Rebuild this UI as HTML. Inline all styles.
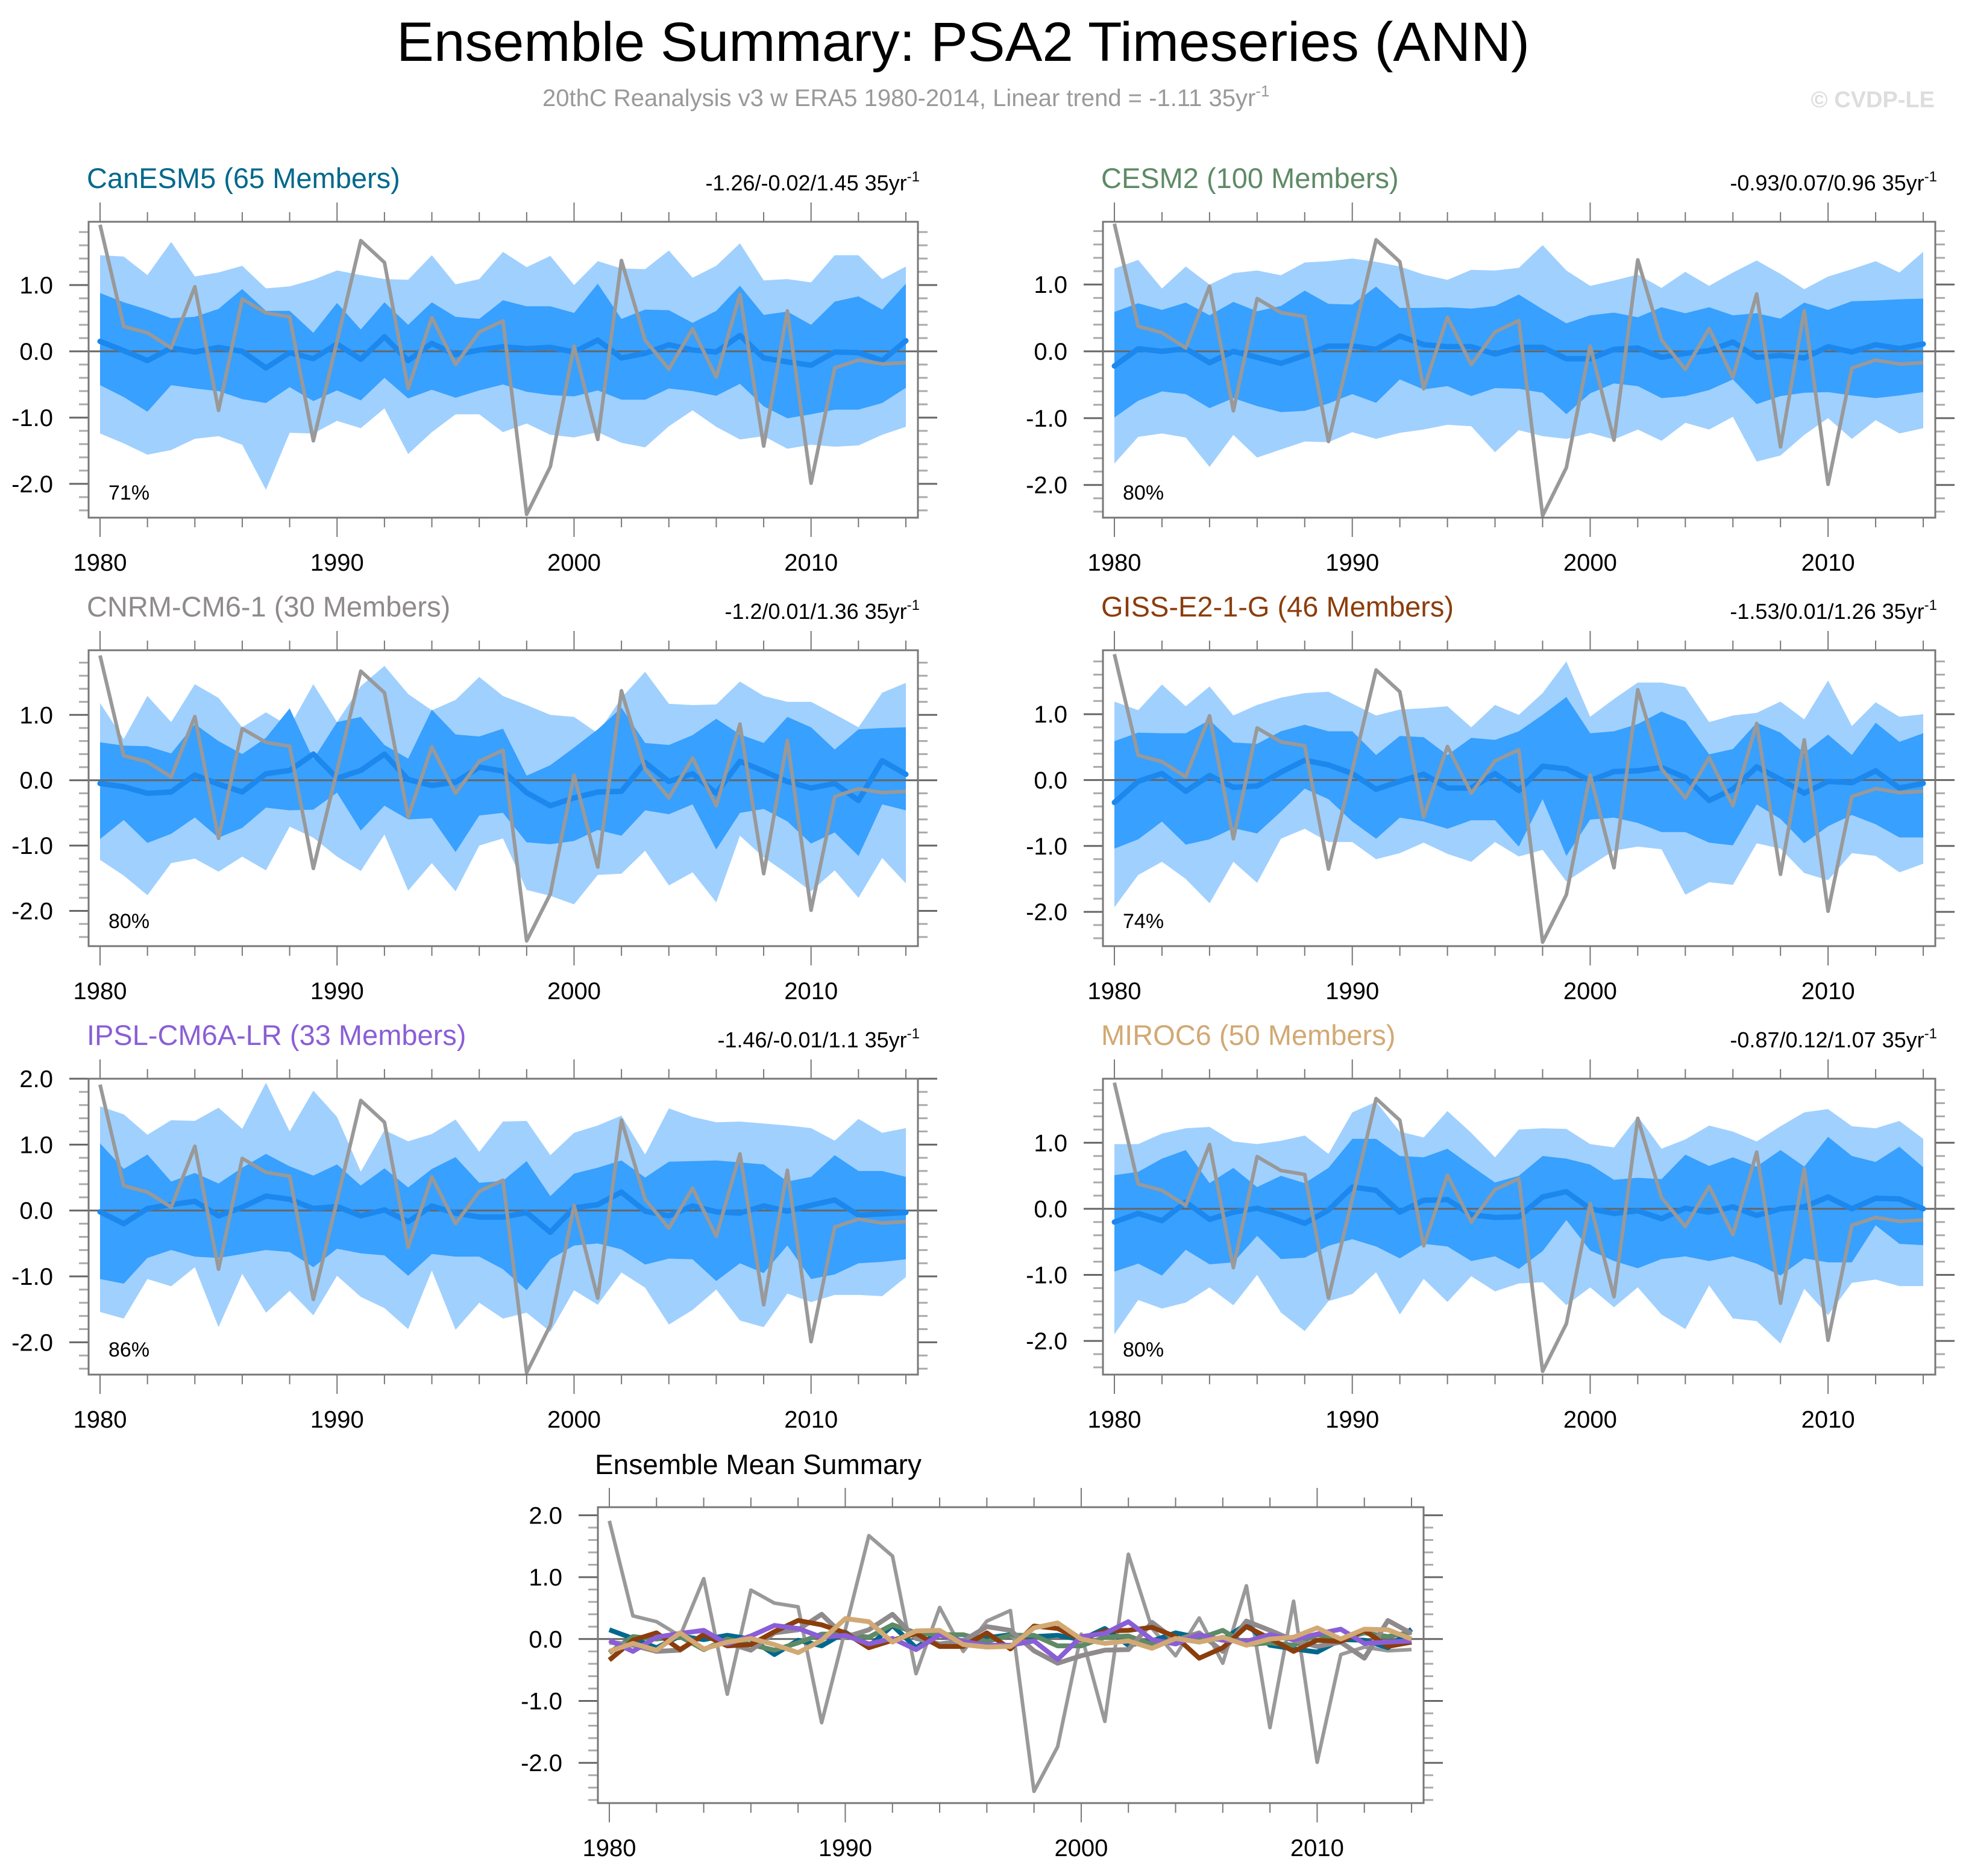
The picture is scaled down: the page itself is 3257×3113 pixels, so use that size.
<!DOCTYPE html>
<html><head><meta charset="utf-8"><title>Ensemble Summary: PSA2 Timeseries (ANN)</title>
<style>html,body{margin:0;padding:0;background:#fff}svg{display:block}text{font-family:"Liberation Sans",Arial,sans-serif}</style>
</head><body>
<svg id="chart" xmlns="http://www.w3.org/2000/svg" width="3257" height="3113" viewBox="0 0 3257 3113">
<rect width="3257" height="3113" fill="#fff"/>
<text x="1598" y="101" font-size="92" text-anchor="middle" textLength="1880" lengthAdjust="spacingAndGlyphs">Ensemble Summary: PSA2 Timeseries (ANN)</text>
<text x="900" y="176" font-size="40" fill="#999">20thC Reanalysis v3 w ERA5 1980-2014, Linear trend = -1.11 35yr<tspan dy="-16" font-size="26">-1</tspan></text>
<text x="3210" y="178" font-size="38" font-weight="bold" fill="#ddd" text-anchor="end">© CVDP-LE</text>
<g id="plots"></g>
</svg>
<script>
const years=[];for(let y=1980;y<=2014;y++)years.push(y);
const obs=[1.91,0.375,0.28,0.05,0.975,-0.89,0.79,0.58,0.52,-1.35,0.15,1.67,1.34,-0.56,0.51,-0.2,0.29,0.46,-2.46,-1.74,0.08,-1.33,1.37,0.17,-0.27,0.34,-0.39,0.86,-1.43,0.61,-1.99,-0.25,-0.13,-0.19,-0.17];

const canHi=[1.45,1.43,1.15,1.65,1.13,1.19,1.29,0.95,0.98,1.08,1.22,1.15,1.09,1.08,1.45,1.01,1.09,1.5,1.27,1.44,1.0,1.36,1.25,1.24,1.52,1.11,1.29,1.63,1.07,1.09,1.04,1.45,1.45,1.09,1.28];
const canQ3=[0.88,0.74,0.63,0.5,0.52,0.64,0.94,0.61,0.61,0.28,0.73,0.33,0.74,0.4,0.74,0.52,0.49,0.77,0.68,0.68,0.58,1.02,0.49,0.63,0.62,0.43,0.61,0.99,0.55,0.6,0.4,0.75,0.83,0.63,1.02];
const canQ1=[-0.51,-0.69,-0.91,-0.51,-0.56,-0.6,-0.72,-0.78,-0.54,-0.75,-0.59,-0.74,-0.4,-0.71,-0.58,-0.7,-0.59,-0.5,-0.61,-0.66,-0.68,-0.59,-0.73,-0.73,-0.56,-0.6,-0.67,-0.49,-0.83,-1.01,-0.95,-0.88,-0.88,-0.78,-0.55];
const canLo=[-1.24,-1.39,-1.56,-1.49,-1.32,-1.28,-1.41,-2.09,-1.23,-1.24,-1.05,-1.16,-0.86,-1.55,-1.22,-0.95,-0.95,-1.22,-1.09,-1.26,-1.3,-1.22,-1.38,-1.45,-1.13,-0.89,-1.14,-1.33,-1.28,-1.47,-1.41,-1.44,-1.42,-1.26,-1.14];
const canMean=[0.15,0.01,-0.14,0.05,-0.01,0.06,0,-0.25,-0.02,-0.11,0.11,-0.12,0.22,-0.14,0.12,-0.05,0.02,0.07,0.04,0.06,-0.01,0.17,-0.1,-0.03,0.1,0.02,-0.01,0.24,-0.1,-0.16,-0.21,-0.01,-0.02,-0.14,0.16];

const cesmHi=[1.24,1.37,0.94,1.27,1.0,1.17,1.21,1.14,1.33,1.35,1.39,1.34,1.27,1.15,1.07,1.22,1.21,1.25,1.59,1.21,0.98,1.06,1.15,0.95,1.19,0.98,1.18,1.36,1.16,0.93,1.12,1.23,1.35,1.18,1.49];
const cesmQ3=[0.59,0.72,0.62,0.73,0.54,0.74,0.6,0.68,0.91,0.71,0.7,0.97,0.65,0.65,0.66,0.64,0.68,0.85,0.63,0.42,0.54,0.58,0.51,0.66,0.57,0.66,0.54,0.57,0.49,0.73,0.62,0.75,0.76,0.78,0.79];
const cesmQ1=[-0.99,-0.74,-0.6,-0.64,-0.85,-0.7,-0.82,-0.91,-0.89,-0.78,-0.64,-0.77,-0.42,-0.57,-0.52,-0.67,-0.55,-0.56,-0.62,-0.94,-0.63,-0.48,-0.52,-0.7,-0.67,-0.58,-0.42,-0.79,-0.67,-0.62,-0.61,-0.66,-0.7,-0.66,-0.61];
const cesmLo=[-1.68,-1.28,-1.23,-1.29,-1.73,-1.25,-1.59,-1.47,-1.35,-1.36,-1.21,-1.31,-1.22,-1.17,-1.1,-1.12,-1.51,-1.18,-1.27,-1.31,-1.22,-1.32,-1.17,-1.34,-1.07,-1.17,-0.98,-1.65,-1.56,-1.25,-1.0,-1.31,-1.03,-1.23,-1.15];
const cesmMean=[-0.22,0.04,0.0,0.04,-0.17,0.0,-0.09,-0.18,-0.06,0.08,0.08,0.03,0.23,0.1,0.07,0.07,-0.04,0.06,0.06,-0.11,-0.11,0.03,0.05,-0.09,-0.03,0.01,0.14,-0.09,-0.06,-0.1,0.07,-0.01,0.1,0.04,0.11];

const cnrmHi=[1.18,0.63,1.29,0.89,1.47,1.26,0.81,1.04,0.82,1.47,0.89,1.44,1.75,1.32,1.07,1.23,1.58,1.29,1.15,1.0,0.97,0.72,1.26,1.66,1.17,1.15,1.16,1.51,1.29,1.2,1.2,1.01,0.81,1.34,1.49];
const cnrmQ3=[0.58,0.53,0.52,0.41,0.86,0.6,0.4,0.65,1.1,0.32,0.89,0.97,0.54,0.33,1.08,0.7,0.67,0.79,0.07,0.23,0.5,0.78,1.11,0.57,0.54,0.69,0.94,0.7,0.57,0.97,0.81,0.47,0.78,0.8,0.81];
const cnrmQ1=[-0.9,-0.61,-0.96,-0.82,-0.57,-0.88,-0.73,-0.42,-0.46,-0.45,-0.19,-0.77,-0.39,-0.6,-0.58,-1.1,-0.54,-0.5,-0.95,-0.98,-0.93,-0.76,-0.85,-0.46,-0.52,-0.37,-1.06,-0.5,-0.44,-0.63,-0.97,-0.8,-1.16,-0.37,-0.46];
const cnrmLo=[-1.22,-1.46,-1.76,-1.27,-1.2,-1.4,-1.17,-1.38,-0.71,-0.88,-1.17,-1.39,-0.83,-1.69,-1.27,-1.7,-1.0,-0.89,-1.68,-1.77,-1.9,-1.45,-1.43,-1.08,-1.61,-1.41,-1.87,-0.85,-1.18,-1.43,-1.7,-1.38,-1.8,-1.19,-1.58];
const cnrmMean=[-0.05,-0.1,-0.2,-0.18,0.08,-0.06,-0.18,0.1,0.15,0.4,0.03,0.15,0.4,0.01,-0.08,-0.03,0.2,0.14,-0.19,-0.39,-0.27,-0.18,-0.17,0.27,-0.02,0.1,-0.2,0.29,0.14,-0.02,-0.12,-0.05,-0.31,0.3,0.09];

const gissHi=[1.19,1.06,1.45,1.12,1.42,0.98,1.14,1.25,1.32,1.34,1.16,0.98,1.07,1.09,1.12,0.8,1.14,0.99,1.32,1.8,0.96,1.23,1.48,1.48,1.41,0.88,0.98,1.02,1.19,0.92,1.51,0.82,1.18,0.96,1.0];
const gissQ3=[0.59,0.72,0.71,0.71,0.91,0.57,0.55,0.74,0.84,0.74,0.74,0.38,0.67,0.65,0.38,0.64,0.61,0.74,0.99,1.26,0.71,0.74,0.85,1.04,0.89,0.39,0.47,0.87,0.72,0.41,0.69,0.38,0.87,0.58,0.71];
const gissQ1=[-1.04,-0.9,-0.63,-0.98,-0.9,-0.73,-0.81,-0.48,-0.13,-0.29,-0.63,-0.89,-0.57,-0.63,-0.74,-0.61,-0.61,-1.01,-0.29,-1.15,-0.6,-0.57,-0.65,-0.79,-0.79,-0.95,-0.99,-0.37,-0.59,-0.96,-0.7,-0.53,-0.67,-0.87,-0.87];
const gissLo=[-1.93,-1.44,-1.24,-1.5,-1.87,-1.24,-1.56,-0.89,-0.74,-0.94,-0.94,-1.2,-1.11,-0.95,-1.12,-1.24,-0.94,-1.16,-1.06,-1.54,-1.3,-1.07,-1.01,-1.05,-1.74,-1.55,-1.59,-0.96,-1.04,-1.41,-1.52,-1.11,-1.15,-1.4,-1.27];
const gissMean=[-0.34,-0.02,0.1,-0.17,0.07,-0.11,-0.09,0.12,0.3,0.23,0.1,-0.14,-0.02,0.09,-0.12,-0.12,0.1,-0.16,0.21,0.17,-0.01,0.13,0.14,0.19,0.04,-0.31,-0.14,0.2,0.01,-0.2,-0.02,-0.04,0.14,-0.12,-0.05];

const ipslHi=[1.58,1.46,1.15,1.37,1.36,1.56,1.24,1.94,1.2,1.82,1.42,0.59,1.22,1.05,1.16,1.38,0.89,1.35,1.36,0.84,1.18,1.29,1.44,0.85,1.55,1.42,1.34,1.35,1.32,1.29,1.25,1.06,1.39,1.18,1.25];
const ipslQ3=[1.02,0.63,0.85,0.44,0.57,0.41,0.65,0.86,0.67,0.53,0.7,0.38,0.64,0.35,0.63,0.81,0.42,0.45,0.75,0.22,0.56,0.65,0.76,0.5,0.74,0.75,0.76,0.73,0.7,0.44,0.51,0.84,0.6,0.6,0.51];
const ipslQ1=[-1.04,-1.11,-0.72,-0.6,-0.7,-0.72,-0.66,-0.6,-0.63,-0.86,-0.58,-0.65,-0.68,-0.99,-0.66,-0.7,-0.7,-0.89,-1.21,-0.74,-0.53,-0.5,-0.59,-0.82,-0.73,-0.74,-1.07,-0.8,-0.95,-0.53,-1.04,-0.97,-0.8,-0.78,-0.74];
const ipslLo=[-1.54,-1.64,-1.04,-1.15,-0.86,-1.77,-0.96,-1.55,-1.22,-1.59,-0.99,-1.31,-1.48,-1.8,-0.91,-1.81,-1.4,-1.64,-1.55,-1.84,-1.21,-1.43,-0.94,-1.17,-1.73,-1.51,-1.2,-1.67,-1.77,-1.26,-1.39,-1.28,-1.28,-1.3,-1.01];
const ipslMean=[-0.02,-0.2,0.03,0.09,0.14,-0.08,0.05,0.22,0.17,0.03,0.06,-0.08,0.01,-0.17,0.07,-0.04,-0.1,-0.1,-0.03,-0.33,0.04,0.09,0.28,-0.01,-0.08,0.07,-0.02,-0.04,0.07,-0.01,0.08,0.16,-0.07,-0.05,-0.03];

const mirocHi=[0.98,0.98,1.14,1.22,1.24,1.02,0.98,1.03,1.11,0.83,1.46,1.62,1.17,1.08,1.48,1.15,0.78,1.2,1.22,1.21,0.98,0.93,1.4,0.91,1.05,1.26,1.17,1.02,1.25,1.46,1.51,1.25,1.22,1.33,1.06];
const mirocQ3=[0.51,0.56,0.76,0.89,0.39,0.62,0.33,0.5,0.39,0.62,1.06,1.06,0.8,0.78,0.91,0.65,0.4,0.5,0.8,0.76,0.67,0.44,0.47,0.45,0.82,0.65,0.78,0.64,0.89,0.64,1.09,0.8,0.71,0.94,0.63];
const mirocQ1=[-0.95,-0.83,-1.01,-0.62,-0.84,-0.81,-0.41,-0.76,-0.74,-0.56,-0.46,-0.57,-0.75,-0.53,-0.57,-0.79,-0.72,-0.91,-0.64,-0.17,-0.63,-0.79,-0.9,-0.76,-0.72,-0.79,-0.72,-0.83,-1.01,-0.75,-0.81,-0.81,-0.25,-0.53,-0.55];
const mirocLo=[-1.9,-1.38,-1.51,-1.42,-1.19,-1.46,-1.0,-1.57,-1.85,-1.4,-1.29,-0.96,-1.6,-1.06,-1.41,-1.02,-1.25,-1.13,-1.11,-1.46,-1.19,-1.49,-1.19,-1.6,-1.82,-1.16,-1.66,-1.7,-2.04,-1.21,-1.61,-1.12,-1.07,-1.17,-1.17];
const mirocMean=[-0.2,-0.07,-0.18,0.1,-0.16,-0.05,0.01,-0.09,-0.22,-0.02,0.33,0.28,-0.05,0.13,0.14,-0.09,-0.13,-0.12,0.18,0.26,0.0,-0.07,-0.03,-0.15,0.01,-0.05,0.03,-0.1,0.0,0.03,0.18,0.0,0.16,0.15,0.0];

const modelNames=["CanESM5 (65 Members)","CESM2 (100 Members)","CNRM-CM6-1 (30 Members)","GISS-E2-1-G (46 Members)","IPSL-CM6A-LR (33 Members)","MIROC6 (50 Members)"];
const modelTrends=["-1.26/-0.02/1.45 35yr","-0.93/0.07/0.96 35yr","-1.2/0.01/1.36 35yr","-1.53/0.01/1.26 35yr","-1.46/-0.01/1.1 35yr","-0.87/0.12/1.07 35yr"];
const modelPct=["71%","80%","80%","74%","86%","80%"];
const modelColors=["#00688C","#5E8A66","#8F8A8C","#8B3D0C","#8A5ED6","#D2A974"];
const yMaxs=[1.955,1.94,1.99,1.97,2.0,1.97];
const yMins=[-2.51,-2.49,-2.54,-2.52,-2.49,-2.51];
const bands=[[canHi,canQ3,canQ1,canLo,canMean],[cesmHi,cesmQ3,cesmQ1,cesmLo,cesmMean],[cnrmHi,cnrmQ3,cnrmQ1,cnrmLo,cnrmMean],[gissHi,gissQ3,gissQ1,gissLo,gissMean],[ipslHi,ipslQ3,ipslQ1,ipslLo,ipslMean],[mirocHi,mirocQ3,mirocQ1,mirocLo,mirocMean]];

const NS="http://www.w3.org/2000/svg";
const root=document.getElementById('plots');
function el(tag,attrs,parent){const e=document.createElementNS(NS,tag);for(const k in attrs)e.setAttribute(k,attrs[k]);(parent||root).appendChild(e);return e;}

function axes(x0,x1,T,H,ymin,ymax){
  const xs=y=>x0+(y-1980)*(x1-x0)/34;
  const ys=v=>T+(ymax-v)*H/(ymax-ymin);
  return {xs,ys};
}
function drawFrame(g,L,T,W,H,xs,ys,ymin,ymax){
  const B=T+H,R=L+W;
  for(let y=1980;y<=2014;y+=2){
    const major=(y%10===0), len=major?32:16, x=xs(y);
    const t1=el('line',{x1:x,y1:T,x2:x,y2:T-len,stroke:'#777','stroke-width':2},g);
    
    
    const t2=el('line',{x1:x,y1:B,x2:x,y2:B+len,stroke:'#777','stroke-width':2},g);
    
    
    if(major){
      const tx=el('text',{x:x,y:B+88,'font-size':40,'text-anchor':'middle'},g);
      tx.textContent=String(y);
      
      
    }
  }
  for(let i=Math.ceil(ymin*5);i<=Math.floor(ymax*5+1e-6);i++){
    const v=i/5, major=(i%5===0), len=major?32:16, y=ys(v);
    const a=el('line',{x1:L,y1:y,x2:L-len,y2:y,stroke:major?'#666':'#aaa','stroke-width':3},g);
    
    
    const b=el('line',{x1:R,y1:y,x2:R+len,y2:y,stroke:major?'#666':'#aaa','stroke-width':3},g);
    
    
    if(major){
      const tx=el('text',{x:L-59,y:y+14,'font-size':40,'text-anchor':'end'},g);
      tx.textContent=(v).toFixed(1);
      
      
    }
  }
  const f=el('rect',{x:L,y:T,width:W,height:H,fill:'none',stroke:'#777','stroke-width':3},g);
  
  
}
function pathFrom(xs,ys,arr){return arr.map((v,i)=>(i?'L':'M')+xs(years[i]).toFixed(1)+','+ys(v).toFixed(1)).join('');}
function bandPath(xs,ys,up,lo){
  let d=up.map((v,i)=>(i?'L':'M')+xs(years[i]).toFixed(1)+','+ys(v).toFixed(1)).join('');
  for(let i=lo.length-1;i>=0;i--)d+='L'+xs(years[i]).toFixed(1)+','+ys(lo[i]).toFixed(1);
  return d+'Z';
}

const colL=[147,1830], colR=[1523,3211], colX0=[166,1849], colX1=[1503,3191], rowT=[368,1079,1790], H=491;
for(let m=0;m<6;m++){
  const c=m%2, r=Math.floor(m/2);
  const L=colL[c],T=rowT[r],W=colR[c]-colL[c];
  const g=el('g',{});
  
  
  const {xs,ys}=axes(colX0[c],colX1[c],T,H,yMins[m],yMaxs[m]);
  const [hi,q3,q1,lo,mean]=bands[m];
  const b1=el('path',{d:bandPath(xs,ys,hi,lo),fill:'#A0D0FE'},g);
  
  
  const b2=el('path',{d:bandPath(xs,ys,q3,q1),fill:'#38A0FE'},g);
  
  
  const z=el('line',{x1:L,x2:L+W,y1:ys(0),y2:ys(0),stroke:'#666','stroke-width':3},g);
  
  
  const ml=el('path',{d:pathFrom(xs,ys,mean),fill:'none',stroke:'#1C88EE','stroke-width':9,'stroke-linejoin':'round','stroke-linecap':'round'},g);
  
  
  const ol=el('path',{d:pathFrom(xs,ys,obs),fill:'none',stroke:'#999','stroke-width':6,'stroke-linejoin':'round'},g);
  
  
  drawFrame(g,L,T,W,H,xs,ys,yMins[m],yMaxs[m]);
  const t=el('text',{x:L-3,y:T-56,'font-size':47,fill:modelColors[m]},g);
  t.textContent=modelNames[m];
  
  
  const tr=el('text',{x:L+W+3,y:T-52,'font-size':36,'text-anchor':'end'},g);
  
  
  const s1=el('tspan',{},tr); s1.textContent=modelTrends[m];
  const s2=el('tspan',{dy:-15,'font-size':24},tr); s2.textContent='-1';
  const p=el('text',{x:L+33,y:T+H-30,'font-size':34},g);
  p.textContent=modelPct[m];
  
  
}

(function(){
  const L=992,T=2501,R=2362,ymin=-2.65,ymax=2.13;
  const g=el('g',{});
  
  
  const {xs,ys}=axes(1011,2342,T,H,ymin,ymax);
  const z=el('line',{x1:L,x2:R,y1:ys(0),y2:ys(0),stroke:'#666','stroke-width':3},g);
  
  
  const ol=el('path',{d:pathFrom(xs,ys,obs),fill:'none',stroke:'#999','stroke-width':6,'stroke-linejoin':'round'},g);
  
  
  for(let m=0;m<6;m++){
    const l=el('path',{d:pathFrom(xs,ys,bands[m][4]),fill:'none',stroke:modelColors[m],'stroke-width':8,'stroke-linejoin':'round'},g);
    
    
  }
  drawFrame(g,L,T,R-L,H,xs,ys,ymin,ymax);
  const t=el('text',{x:987,y:2446,'font-size':46},g);
  t.textContent='Ensemble Mean Summary';
  
  
})();
</script>
</body></html>
